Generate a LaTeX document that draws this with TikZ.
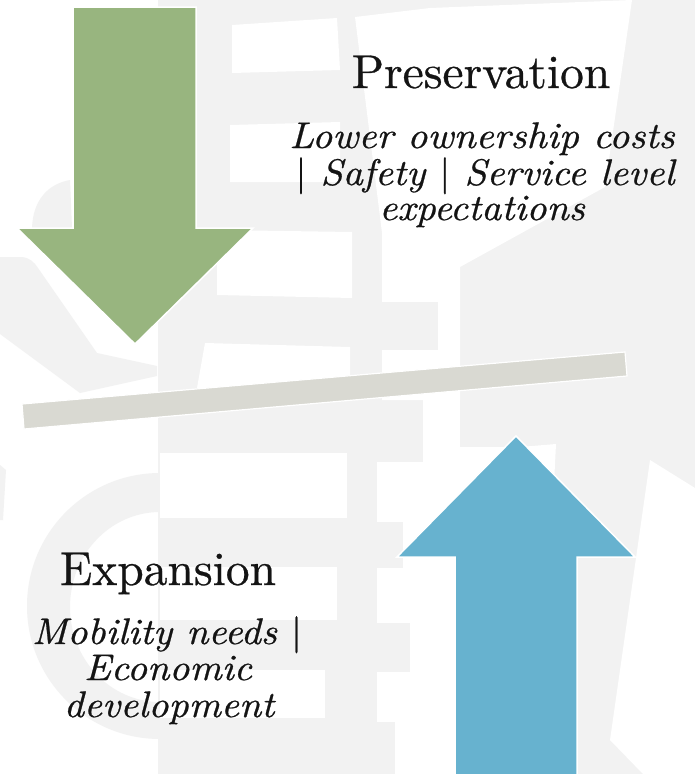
\documentclass[tikz,border=0pt]{standalone}
\usepackage{fontspec}
\usepackage{graphicx}
\newfontfamily\titlefont{lmroman10-regular.otf}[FakeBold=0.6]
\newfontfamily\subfont{lmroman10-italic.otf}[FakeBold=0.6]
\definecolor{wmgray}{RGB}{242,242,242}
\definecolor{arrgreen}{RGB}{152,181,127}
\definecolor{arrblue}{RGB}{103,178,207}
\definecolor{barfill}{RGB}{217,217,210}
\definecolor{txt}{RGB}{20,20,20}
\newcommand\wideline[1]{\scalebox{1.065}[1]{#1}}
\newcommand\vbar{{\titlefont|}}
\begin{document}
\begin{tikzpicture}[x=1pt,y=-1pt,
  wm/.style={fill=wmgray},
  wh/.style={fill=white},
  bigarrow/.style={draw=white,line width=1.5pt,line join=miter},
  title/.style={anchor=base,inner sep=0pt,font=\titlefont\fontsize{47.5}{50}\selectfont,text=txt},
  sub/.style={anchor=base,inner sep=0pt,font=\subfont\fontsize{37}{37}\selectfont,text=txt}]
\useasboundingbox (0,0) rectangle (695,774);
% watermark background
\fill[wm] (0,0) rectangle (695,774);
\fill[wh] (0,0) rectangle (158,774);
\fill[wm] (70,180) .. controls (48,184) and (33,200) .. (32,228) -- (72,228) -- cycle;
\fill[wm] (0,257) -- (22,257) .. controls (30,258) and (34,262) .. (38,268) -- (97,353) -- (157,366) -- (157,376) -- (80,393) -- (0,334) -- cycle;
\fill[wm, even odd rule] (160,606) circle[radius=133] (160,607) ellipse[x radius=90, y radius=95];
\fill[wm] (0,465) -- (6,470) -- (3,520) -- (0,520) -- cycle;
% top middle white slabs
\fill[wh] (232,25) -- (337,18) -- (340,70) -- (232,73) -- cycle;
\fill[wh] (230,125) -- (340,122) -- (340,182) -- (230,182) -- cycle;
\fill[wh] (217,230) -- (352,232) -- (352,298) -- (217,295) -- cycle;
\fill[wh] (205,343) -- (350,347) -- (350,385) -- (197,388) -- cycle;
% top right white region
\fill[wh] (355,17) -- (430,8) -- (632,0) -- (605,187) -- (460,267) -- (460,400) -- (382,400) -- (382,233) -- cycle;
\fill[wm] (382,302) rectangle (438,350);
% lower stairs, left of column
\fill[wh] (160,453) rectangle (347,518);
\fill[wh] (160,567) rectangle (337,620);
\fill[wh] (160,670) rectangle (325,718);
% lower stairs, right of column
\fill[wh] (423,400) rectangle (460,462);
\fill[wh] (377,462) rectangle (520,774);
\fill[wh] (460,447) rectangle (520,462);
\fill[wh] (520,447) -- (556,444) -- (554,484) -- cycle;
\fill[wm] (377,522) rectangle (403,568);
\fill[wm] (377,623) rectangle (410,672);
\fill[wm] (377,722) rectangle (395,774);
% bottom right white region
\fill[wh] (650,460) -- (695,488) -- (695,774) -- (643,774) -- (610,740) -- cycle;
% balance bar
\draw[draw=white, line width=1.2pt, fill=barfill] (22,404) -- (625,352) -- (627,376) -- (24,429) -- cycle;
% arrows
\draw[bigarrow, fill=arrgreen] (73,7) -- (196,7) -- (196,228) -- (253,228) -- (135,344) -- (17,228) -- (73,228) -- cycle;
\draw[bigarrow, fill=arrblue] (455,780) -- (455,557) -- (397,557) -- (516,436) -- (635,557) -- (577,557) -- (577,780) -- cycle;
% texts
\node[title] (pres) at (481,88) {Preservation};
\node[sub] (p1) at (482,148) {\wideline{Lower ownership costs}};
\node[sub] (p2) at (485,185) {\wideline{\vbar{} Safety \vbar{} Service level}};
\node[sub] (p3) at (482,220) {\wideline{expectations}};
\node[title] (exp) at (168,585) {Expansion};
\node[sub] (e1) at (167,644) {\wideline{Mobility needs \vbar}};
\node[sub] (e2) at (168,680) {\wideline{Economic}};
\node[sub] (e3) at (169,717) {\wideline{development}};
\end{tikzpicture}
\end{document}
